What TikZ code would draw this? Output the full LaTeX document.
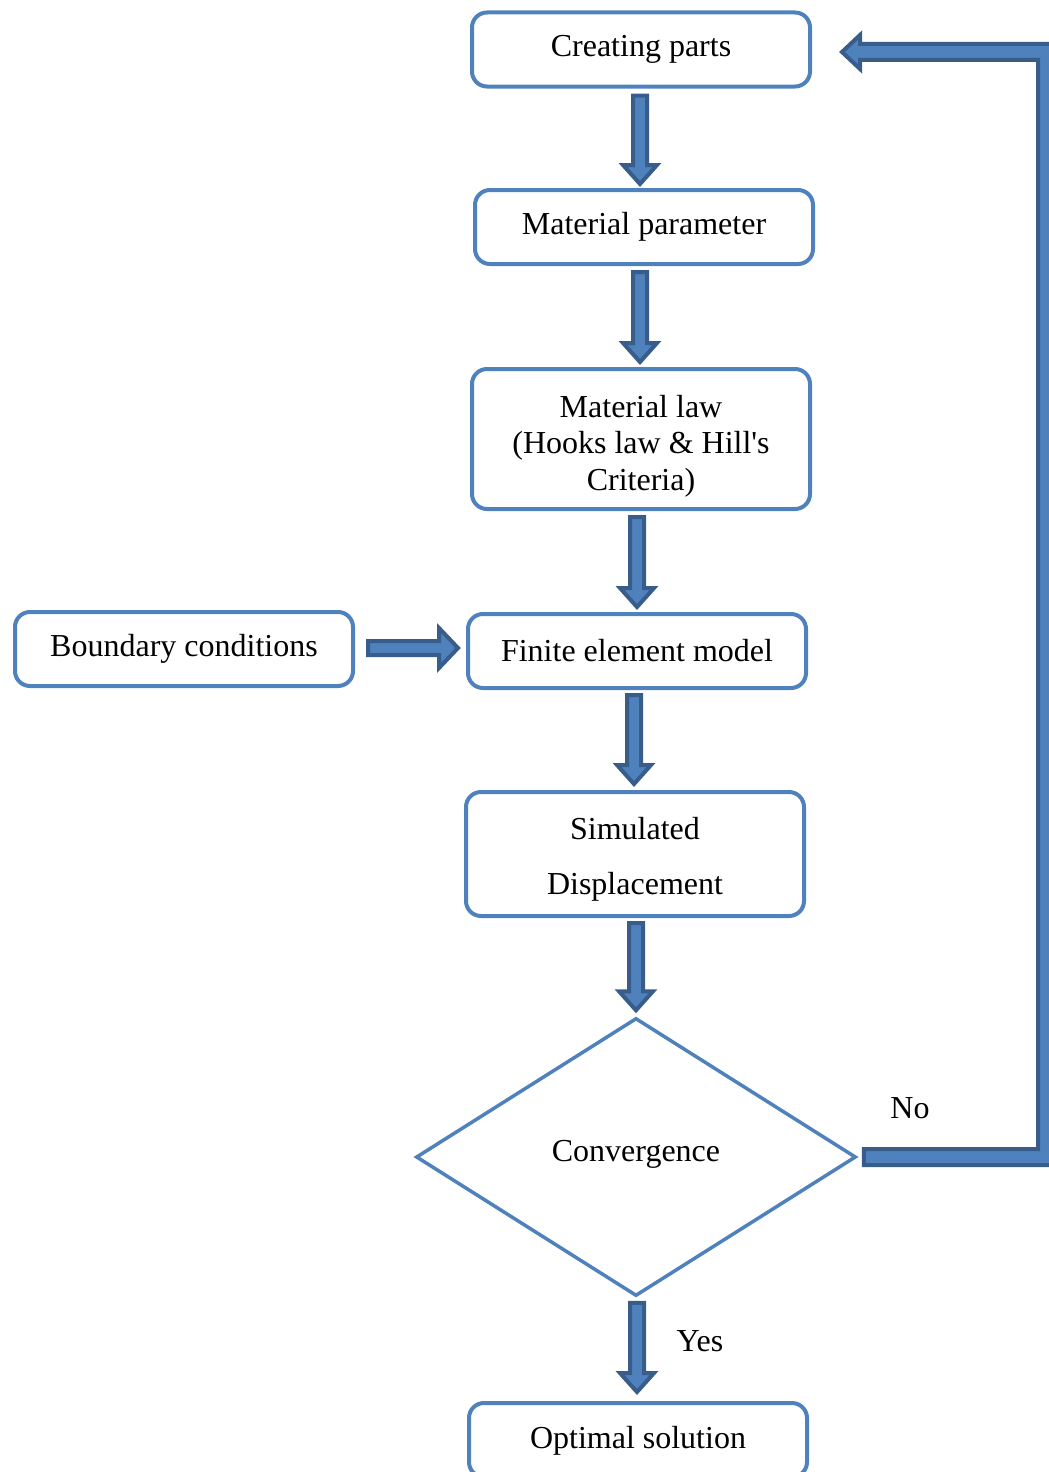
\documentclass[tikz,border=0pt]{standalone}
\usepackage{fontspec}
\setmainfont{Liberation Serif}
\usetikzlibrary{shapes.geometric,calc}
\definecolor{boxblue}{HTML}{4F81BD}
\definecolor{arrdark}{HTML}{385D8A}
\definecolor{arrfill}{HTML}{4F81BD}
\tikzset{
 box/.style={draw=boxblue, line width=4pt, rounded corners=15pt, minimum width=338pt, minimum height=74pt, align=center, font=\fontsize{32}{37}\selectfont, inner sep=0pt},
 blk/.style={fill=arrfill, draw=arrdark, line width=4pt, line join=miter},
 lbl/.style={font=\fontsize{32}{37}\selectfont, inner sep=0pt, align=center}
}
\newcommand\vblk[2]{%
 \filldraw[blk] let \p1=#1, \p2=#2 in (\x1-7pt,\y1) -- (\x1+7pt,\y1) -- (\x1+7pt,\y2+19pt) -- (\x1+17pt,\y2+19pt) -- (\x1,\y2) -- (\x1-17pt,\y2+19pt) -- (\x1-7pt,\y2+19pt) -- cycle;}
\newcommand\hblk[2]{%
 \filldraw[blk] let \p1=#1, \p2=#2 in (\x1,\y1-7pt) -- (\x1,\y1+7pt) -- (\x2-19pt,\y1+7pt) -- (\x2-19pt,\y1+20pt) -- (\x2,\y1) -- (\x2-19pt,\y1-20pt) -- (\x2-19pt,\y1-7pt) -- cycle;}
\begin{document}
\begin{tikzpicture}[x=1pt,y=-1pt]
\useasboundingbox (0,0) rectangle (1049,1472);
\node[box] (cp) at (641,49.5) {Creating parts};
\node[box] (mp) at (644,227) {Material parameter};
\node[box, minimum height=140pt, label={[lbl, font=\fontsize{32}{36.5}\selectfont, yshift=-7pt]center:Material law\\(Hooks law \& Hill\textquotesingle s\\Criteria)}] (ml) at (641,439) {};
\node[box] (bc) at (184,649) {Boundary conditions};
\node[box] (fe) at (637,651) {Finite element model};
\node[box, minimum height=124pt, label={[lbl, font=\fontsize{32}{55}\selectfont, yshift=-5pt]center:Simulated\\Displacement}] (sd) at (635,854) {};
\node[draw=boxblue, line width=3.5pt, diamond, minimum width=440pt, minimum height=278pt, inner sep=0pt] (dia) at (636,1157) {};
\node[lbl] (dtext) at (636,1154) {Convergence};
\node[box] (opt) at (638,1440) {};
\node[lbl] (otext) at (638,1441) {Optimal solution};
\node[lbl] (no) at (910,1108) {No};
\node[lbl] (yes) at (700,1341) {Yes};
\coordinate (fbx) at (1038,600);

\vblk{($(cp.south)+(-1,7)$)}{($(mp.north)+(-4,-4)$)}
\vblk{($(mp.south)+(-4,6)$)}{($(ml.north)+(-1,-5)$)}
\vblk{($(ml.south)+(-4,6)$)}{($(fe.north)+(0,-5)$)}
\vblk{($(fe.south)+(-3,5)$)}{($(sd.north)+(-1,-6)$)}
\vblk{($(sd.south)+(1,5)$)}{($(dia.north)+(0,-6)$)}
\vblk{($(dia.south)+(1,5)$)}{($(opt.north)+(-1,-9)$)}
\hblk{($(bc.east)+(13,-1)$)}{($(fe.west)+(-8,-3)$)}

\filldraw[blk] let \p1=($(dia.east)+(6,0)$), \p2=($(cp.east)+(30,2.5)$), \p3=(fbx) in
 (\x1,\y1+8pt) -- (\x3,\y1+8pt) -- (\x3,\y2-8pt) -- (\x2+18pt,\y2-8pt) -- (\x2+18pt,\y2-17pt) -- (\x2,\y2) -- (\x2+18pt,\y2+17pt) -- (\x2+18pt,\y2+8pt) -- (\x3+24pt,\y2+8pt) -- (\x3+24pt,\y1-8pt) -- (\x1,\y1-8pt) -- cycle;
\end{tikzpicture}
\end{document}
